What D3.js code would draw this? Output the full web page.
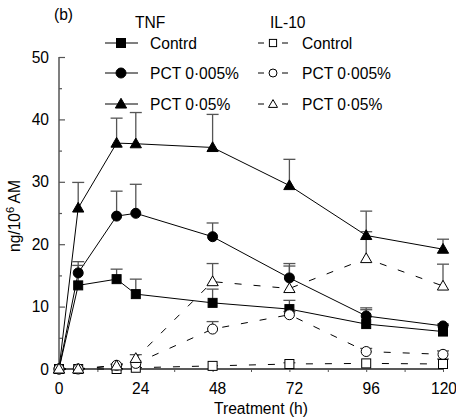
<!DOCTYPE html>
<html><head><meta charset="utf-8">
<script src="https://cdn.jsdelivr.net/npm/d3@7"></script>
<style>body{margin:0;background:#fff}svg{display:block;font-family:"Liberation Sans",Arial,sans-serif}</style>
</head><body><svg id="c" width="456" height="418"></svg>
<script>
const hours = [0, 6, 18, 24, 48, 72, 96, 120];
const tnfControl = [0, 13.4, 14.4, 12.0, 10.6, 9.6, 7.2, 6.0];
const tnfControlErr = [0, 16.6, 16.0, 14.4, 12.8, 11.0, 9.5, 7.0];
const tnfLow = [0, 15.4, 24.5, 24.95, 21.2, 14.6, 8.5, 6.9];
const tnfLowErr = [0, 17.2, 28.5, 29.6, 23.4, 16.9, 9.8, 7.2];
const tnfHigh = [0, 25.8, 36.2, 36.1, 35.5, 29.4, 21.4, 19.2];
const tnfHighErr = [0, 29.9, 40.2, 41.1, 40.8, 33.6, 25.3, 20.8];
const ilControl = [0, 0, 0, 0.2, 0.5, 0.8, 0.9, 0.8];
const ilControlErr = [0, 0, 0, 0.3, 0.6, 1.0, 1.0, 1.6];
const ilLow = [0, 0, 0.6, 0.9, 6.4, 8.7, 2.8, 2.35];
const ilLowErr = [0, 0, 0.8, 1.0, 7.6, 9.2, 3.3, 2.9];
const ilHigh = [0, 0, 0.5, 1.7, 14.0, 12.9, 17.7, 13.3];
const ilHighErr = [0, 0, 0.7, 2.3, 16.9, 16.5, 22.0, 16.8];
const xTicks = [0, 24, 48, 72, 96, 120];
const yTicks = [0, 10, 20, 30, 40, 50];

const series = [
  {name: "Contrd", group: "TNF", v: tnfControl, e: tnfControlErr, shape: "square", fill: "#000", dash: null},
  {name: "PCT 0·005%", group: "TNF", v: tnfLow, e: tnfLowErr, shape: "circle", fill: "#000", dash: null},
  {name: "PCT 0·05%", group: "TNF", v: tnfHigh, e: tnfHighErr, shape: "triangle", fill: "#000", dash: null},
  {name: "Control", group: "IL-10", v: ilControl, e: ilControlErr, shape: "square", fill: "#fff", dash: "7,12"},
  {name: "PCT 0·005%", group: "IL-10", v: ilLow, e: ilLowErr, shape: "circle", fill: "#fff", dash: "7,12"},
  {name: "PCT 0·05%", group: "IL-10", v: ilHigh, e: ilHighErr, shape: "triangle", fill: "#fff", dash: "7,12"}
];

const FS = 15.6;
const svg = d3.select("#c");
const x = d3.scaleLinear().domain([0, 120]).range([59, 443]);
const y = d3.scaleLinear().domain([0, 50]).range([369, 57]);
const axisCol = "#555";

// y axis
const ya = svg.append("g").attr("transform", "translate(59,0)")
  .call(d3.axisRight(y).tickValues(d3.range(0, 51, 5)).tickSize(6).tickFormat(""));
ya.select(".domain").attr("stroke", axisCol).attr("stroke-width", 1.5).attr("d", `M0,${y(50)}V${y(0)}`);
ya.selectAll(".tick line").attr("stroke", axisCol).attr("stroke-width", 1.2)
  .attr("x2", d => d % 10 === 0 ? 6 : 3);
svg.append("g").selectAll("text").data(yTicks).join("text")
  .attr("x", 49).attr("y", d => y(d) + 5.5).attr("text-anchor", "end")
  .attr("font-size", FS).text(d => d);

// x axis
const xa = svg.append("g").attr("transform", `translate(0,${y(0)})`)
  .call(d3.axisBottom(x).tickValues(d3.range(0, 121, 12)).tickSize(3).tickFormat(""));
xa.select(".domain").attr("stroke", "#222").attr("stroke-width", 1.3).attr("d", `M${x(0)},0H${x(120)}`);
xa.selectAll(".tick line").attr("stroke", axisCol);
svg.append("g").selectAll("text").data(xTicks).join("text")
  .attr("x", d => x(d) + (d === 0 ? 0 : d === 120 ? 1 : 5)).attr("y", 393.5).attr("text-anchor", "middle")
  .attr("font-size", FS).text(d => d);

svg.append("text").attr("x", 261).attr("y", 413.5).attr("text-anchor", "middle")
  .attr("font-size", FS).text("Treatment (h)");
const yl = svg.append("text").attr("transform", "translate(20,216) rotate(-90)")
  .attr("text-anchor", "middle").attr("font-size", FS);
yl.append("tspan").text("ng/10");
yl.append("tspan").attr("dy", -6).attr("font-size", 11).text("6");
yl.append("tspan").attr("dy", 6).text(" AM");

svg.append("text").attr("x", 54).attr("y", 20).attr("font-size", FS).text("(b)");

function marker(g, shape, fill, cx, cy, scale) {
  const s = scale || 1;
  if (shape === "square") {
    g.append("rect").attr("x", cx - 4.5 * s).attr("y", cy - 4.5 * s).attr("width", 9 * s).attr("height", 9 * s)
      .attr("fill", fill).attr("stroke", "#000").attr("stroke-width", 1);
  } else if (shape === "circle") {
    g.append("circle").attr("cx", cx).attr("cy", cy).attr("r", 5 * s)
      .attr("fill", fill).attr("stroke", "#000").attr("stroke-width", 1);
  } else {
    const sym = d3.symbol().type(d3.symbolTriangle).size(55 * s * s);
    g.append("path").attr("d", sym()).attr("transform", `translate(${cx},${cy + 0.8})`)
      .attr("fill", fill).attr("stroke", "#000").attr("stroke-width", 1);
  }
}

const line = d3.line().x((d, i) => x(hours[i])).y(d => y(d));
const plot = svg.append("g");
series.forEach(s => {
  plot.append("path").attr("d", line(s.v)).attr("fill", "none").attr("stroke", "#000")
    .attr("stroke-width", 1).attr("stroke-dasharray", s.dash);
});
series.forEach(s => {
  const g = plot.append("g").attr("stroke", axisCol).attr("stroke-width", 1.3);
  s.v.forEach((v, i) => {
    const e = s.e[i];
    if (e - v < 0.15) return;
    g.append("line").attr("x1", x(hours[i])).attr("x2", x(hours[i])).attr("y1", y(v)).attr("y2", y(e));
    g.append("line").attr("x1", x(hours[i]) - 6).attr("x2", x(hours[i]) + 6).attr("y1", y(e)).attr("y2", y(e));
  });
});
series.forEach(s => {
  const g = plot.append("g");
  s.v.forEach((v, i) => marker(g, s.shape, s.fill, x(hours[i]), y(v)));
});

// legend
svg.append("text").attr("x", 135).attr("y", 28).attr("font-size", FS).text("TNF");
svg.append("text").attr("x", 270).attr("y", 28).attr("font-size", FS).text("IL-10");
const rowsY = [43, 73, 104];
series.forEach((s, k) => {
  const cy = rowsY[k % 3];
  const g = svg.append("g");
  if (s.group === "TNF") {
    g.append("line").attr("x1", 105).attr("x2", 138).attr("y1", cy).attr("y2", cy).attr("stroke", "#000");
    marker(g, s.shape, s.fill, 121, cy);
    g.append("text").attr("x", 150).attr("y", cy + 5.5).attr("font-size", FS).text(s.name);
  } else {
    g.append("line").attr("x1", 258).attr("x2", 264).attr("y1", cy).attr("y2", cy).attr("stroke", "#000");
    g.append("line").attr("x1", 282).attr("x2", 288).attr("y1", cy).attr("y2", cy).attr("stroke", "#000");
    marker(g, s.shape, s.fill, 273, cy, 0.8);
    g.append("text").attr("x", 302).attr("y", cy + 5.5).attr("font-size", FS).text(s.name);
  }
});
</script></body></html>
